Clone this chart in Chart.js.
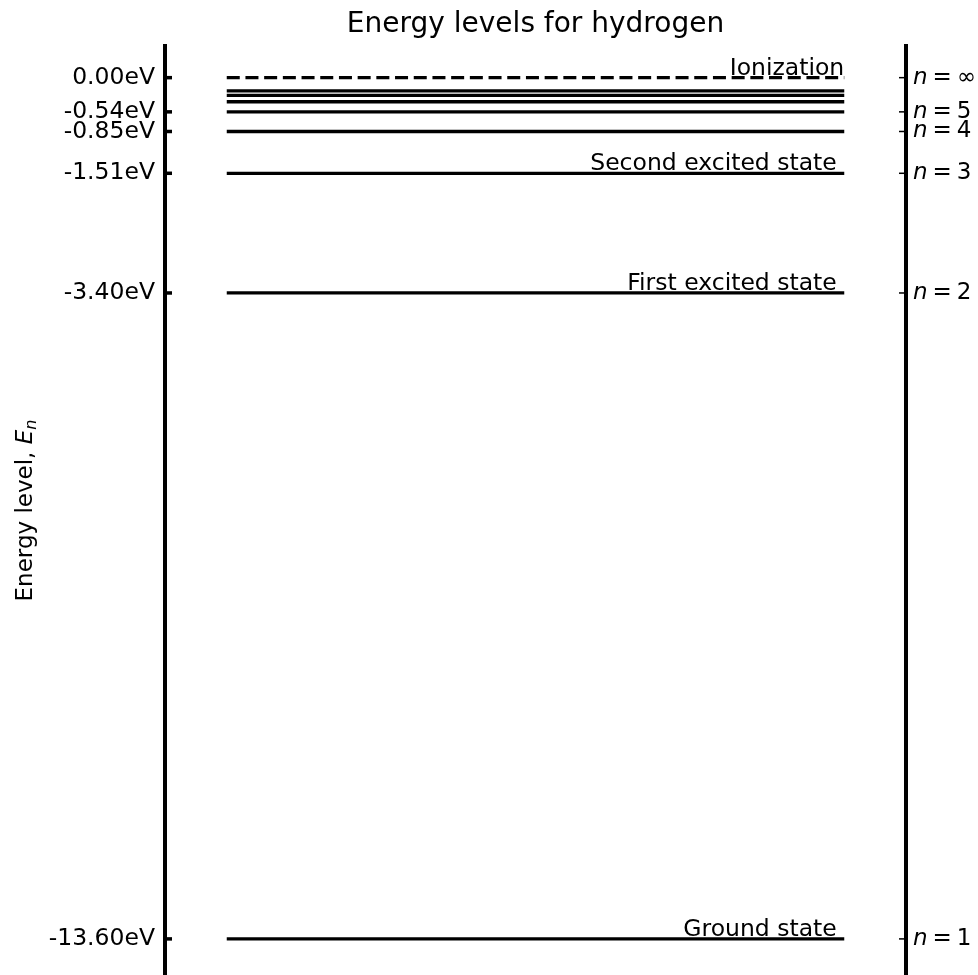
<!DOCTYPE html>
<html>
<head>
<meta charset="utf-8">
<script src="https://cdn.jsdelivr.net/npm/chart.js@4"></script>
<style>
  html, body { margin: 0; padding: 0; background: #ffffff; }
  canvas { display: block; }
</style>
</head>
<body>
<canvas id="chart" width="978" height="975"></canvas>
<script>
// Hydrogen energy levels (eV), n = 1 .. 8
const levelN = [1, 2, 3, 4, 5, 6, 7, 8];
const levelEnergies = [-13.60, -3.40, -1.51, -0.85, -0.54, -0.38, -0.28, -0.21];
const ionizationEnergy = 0.00;

// Named states written above their lines
const stateNames = ['Ground state ', 'First excited state ', 'Second excited state ', 'Ionization'];
const stateEnergies = [-13.60, -3.40, -1.51, 0.00];

// Axis ticks
const tickValues = [0.00, -0.54, -0.85, -1.51, -3.40, -13.60];
const tickLabels = ['0.00eV', '-0.54eV', '-0.85eV', '-1.51eV', '-3.40eV', '-13.60eV'];
const quantumLabels = ['\u221E', '5', '4', '3', '2', '1'];

const FONT = 'DejaVu Sans';

function levelLine(e) {
  return [{ x: 0, y: e }, { x: 1, y: e }];
}

const datasets = levelEnergies.map((e, i) => ({
  label: 'n = ' + levelN[i],
  data: levelLine(e),
  borderColor: '#000000',
  borderWidth: 3.3,
  borderCapStyle: 'butt',
  pointRadius: 0,
  fill: false,
  tension: 0
}));
datasets.push({
  label: 'Ionization',
  data: levelLine(ionizationEnergy),
  borderColor: '#000000',
  borderWidth: 3.3,
  borderDash: [13, 5.7],
  borderCapStyle: 'butt',
  pointRadius: 0,
  fill: false,
  tension: 0
});

const decorations = {
  id: 'decorations',
  afterDraw(chart) {
    const ctx = chart.ctx;
    const ya = chart.scales.y;
    const yb = chart.scales.y2;
    const xs = chart.scales.x;
    const area = chart.chartArea;
    ctx.save();

    // inward tick marks on the left spine
    ctx.strokeStyle = '#000';
    ctx.lineWidth = 3.5;
    tickValues.forEach(v => {
      const py = ya.getPixelForValue(v);
      ctx.beginPath();
      ctx.moveTo(area.left, py);
      ctx.lineTo(area.left + 7, py);
      ctx.stroke();
    });

    // thin inward tick marks on the right spine and the n labels
    ctx.lineWidth = 1.5;
    ctx.fillStyle = '#000';
    ctx.textBaseline = 'middle';
    tickValues.forEach((v, i) => {
      const py = yb.getPixelForValue(v);
      ctx.beginPath();
      ctx.moveTo(area.right, py);
      ctx.lineTo(area.right - 7, py);
      ctx.stroke();
      let x = area.right + 7;
      ctx.textAlign = 'left';
      ctx.font = 'italic 23px ' + FONT;
      ctx.fillText('n', x, py);
      x += ctx.measureText('n').width + 5;
      ctx.font = '23px ' + FONT;
      ctx.fillText('=', x, py);
      x += ctx.measureText('=').width + 5;
      ctx.fillText(quantumLabels[i], x, py);
    });

    // state names above their lines, right aligned at the line end
    ctx.font = '23.5px ' + FONT;
    ctx.textAlign = 'right';
    ctx.textBaseline = 'alphabetic';
    stateNames.forEach((name, i) => {
      const py = ya.getPixelForValue(stateEnergies[i]);
      ctx.fillText(name, xs.getPixelForValue(1), py - 3);
    });

    // title
    ctx.font = '28px ' + FONT;
    ctx.textAlign = 'center';
    ctx.textBaseline = 'alphabetic';
    ctx.fillText('Energy levels for hydrogen', (area.left + area.right) / 2, 32);

    // y axis title with italic E and subscript n
    ctx.translate(32, (area.top + area.bottom) / 2);
    ctx.rotate(-Math.PI / 2);
    ctx.textBaseline = 'alphabetic';
    const part1 = 'Energy level, ';
    ctx.font = '23px ' + FONT;
    const w1 = ctx.measureText(part1).width;
    ctx.font = 'italic 23px ' + FONT;
    const w2 = ctx.measureText('E').width;
    ctx.font = 'italic 16px ' + FONT;
    const w3 = ctx.measureText('n').width;
    let x0 = -(w1 + w2 + w3) / 2;
    ctx.textAlign = 'left';
    ctx.font = '23px ' + FONT;
    ctx.fillText(part1, x0, 0);
    ctx.font = 'italic 23px ' + FONT;
    ctx.fillText('E', x0 + w1, 0);
    ctx.font = 'italic 16px ' + FONT;
    ctx.fillText('n', x0 + w1 + w2, 4);
    ctx.restore();
  }
};

new Chart(document.getElementById('chart'), {
  type: 'line',
  data: { datasets },
  options: {
    responsive: false,
    animation: false,
    events: [],
    layout: { padding: { top: 46, bottom: 0, left: 0, right: 0 } },
    plugins: {
      legend: { display: false },
      title: { display: false },
      tooltip: { enabled: false }
    },
    scales: {
      x: {
        type: 'linear',
        min: -0.1,
        max: 1.1,
        display: false
      },
      y: {
        type: 'linear',
        position: 'left',
        min: -14.17,
        max: 0.5,
        afterFit(scale) {
          scale.width = 165;
          scale.paddingTop = 0;
          scale.paddingBottom = 0;
        },
        afterBuildTicks(scale) { scale.ticks = tickValues.map(v => ({ value: v })); },
        grid: { display: false, drawTicks: false },
        border: { display: true, width: 4, color: '#000' },
        ticks: {
          autoSkip: false,
          padding: 10,
          color: '#000',
          font: { family: FONT, size: 23.5 },
          callback(value) {
            const i = tickValues.indexOf(value);
            return i >= 0 ? tickLabels[i] : '';
          }
        }
      },
      y2: {
        type: 'linear',
        position: 'right',
        min: -14.17,
        max: 0.5,
        afterFit(scale) {
          scale.width = 72;
          scale.paddingTop = 0;
          scale.paddingBottom = 0;
        },
        afterBuildTicks(scale) { scale.ticks = tickValues.map(v => ({ value: v })); },
        grid: { display: false, drawTicks: false },
        border: { display: true, width: 4, color: '#000' },
        ticks: { display: false }
      }
    }
  },
  plugins: [decorations]
});
</script>
</body>
</html>
